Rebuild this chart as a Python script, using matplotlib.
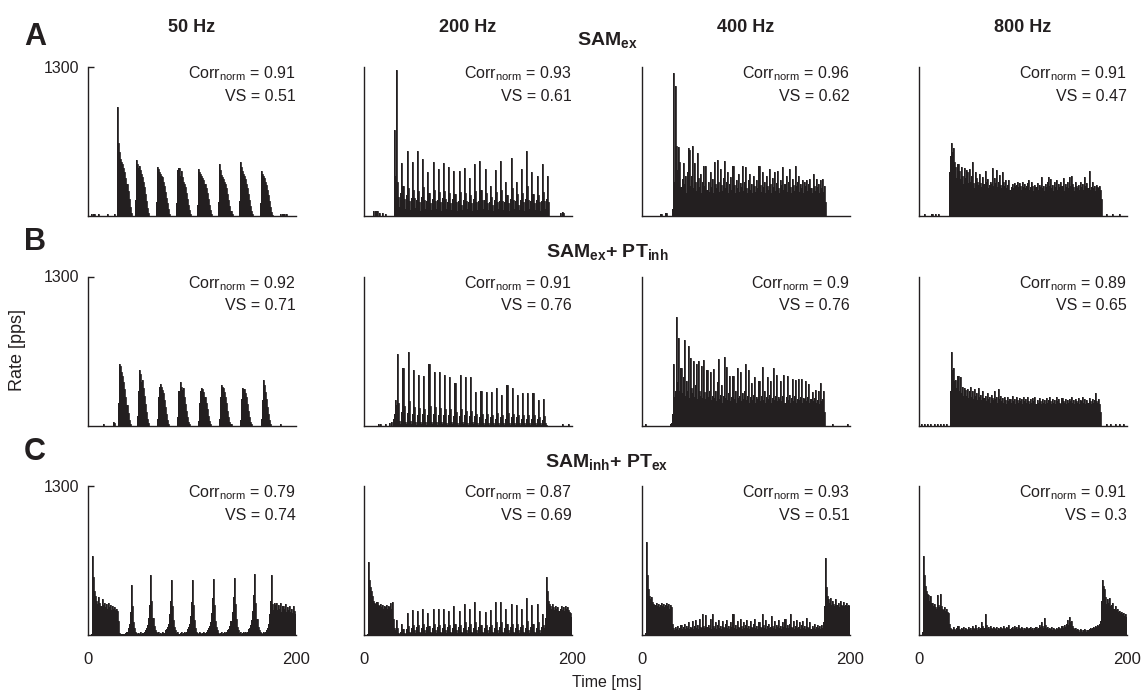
import matplotlib
matplotlib.use("Agg")
import matplotlib.pyplot as plt
import numpy as np

plt.rcParams['font.family'] = ['Liberation Sans', 'DejaVu Sans']
plt.rcParams['mathtext.fontset'] = 'custom'
plt.rcParams['mathtext.rm'] = 'Liberation Sans'
plt.rcParams['mathtext.bf'] = 'Liberation Sans:bold'
plt.rcParams['mathtext.it'] = 'Liberation Sans:italic'

# ---------------------------------------------------------------- data
frequencies = ["50 Hz", "200 Hz", "400 Hz", "800 Hz"]
conditions = [r"SAM$_{\mathbf{ex}}$",
              r"SAM$_{\mathbf{ex}}$+ PT$_{\mathbf{inh}}$",
              r"SAM$_{\mathbf{inh}}$+ PT$_{\mathbf{ex}}$"]
panel_letters = ["A", "B", "C"]
corr_norm = [[0.91, 0.93, 0.96, 0.91],
             [0.92, 0.91, 0.9, 0.89],
             [0.79, 0.87, 0.93, 0.91]]
vector_strength = [[0.51, 0.61, 0.62, 0.47],
                   [0.71, 0.76, 0.76, 0.65],
                   [0.74, 0.69, 0.51, 0.3]]
time_ticks = [0, 200]
rate_tick = 1300
bin_edges_ms = np.arange(0, 201, 1)

# PSTH rates (pps), 1-ms bins, 0-200 ms
rate_samex_50 = [
    0, 0, 0, 15, 0, 15, 20, 0, 0, 0,
    15, 0, 0, 0, 0, 0, 0, 0, 20, 0,
    0, 0, 0, 0, 0, 15, 0, 0, 950, 640,
    560, 500, 470, 450, 420, 380, 330, 280, 220, 150,
    80, 30, 0, 0, 0, 140, 490, 450, 420, 440,
    400, 370, 340, 300, 250, 190, 130, 70, 25, 0,
    0, 0, 0, 0, 0, 120, 430, 410, 380, 370,
    350, 340, 300, 260, 210, 160, 110, 60, 20, 0,
    0, 0, 0, 0, 0, 110, 400, 420, 350, 390,
    340, 300, 280, 250, 200, 150, 100, 50, 15, 0,
    0, 0, 0, 0, 0, 100, 410, 380, 370, 350,
    330, 310, 280, 240, 200, 150, 100, 50, 15, 0,
    0, 0, 0, 0, 0, 120, 450, 400, 360, 340,
    320, 300, 280, 240, 190, 140, 90, 45, 15, 0,
    0, 0, 0, 0, 0, 130, 470, 430, 390, 370,
    350, 320, 280, 240, 190, 140, 90, 45, 15, 0,
    0, 0, 0, 0, 0, 110, 390, 370, 350, 330,
    300, 270, 230, 180, 130, 80, 35, 10, 0, 0,
    0, 0, 0, 0, 0, 15, 0, 15, 15, 0,
    15, 0, 0, 0, 0, 0, 0, 0, 0, 0]

rate_samex_200 = [
    0, 0, 0, 0, 0, 0, 0, 0, 0, 40,
    0, 45, 40, 0, 30, 0, 0, 25, 0, 0,
    20, 0, 0, 0, 0, 0, 0, 0, 0, 750,
    350, 1270, 300, 170, 80, 200, 460, 260, 150, 60,
    180, 570, 240, 130, 50, 160, 470, 230, 160, 70,
    140, 570, 220, 120, 40, 170, 500, 250, 140, 60,
    130, 380, 200, 110, 50, 150, 470, 230, 130, 60,
    140, 410, 210, 120, 40, 160, 460, 220, 150, 60,
    120, 430, 200, 110, 50, 150, 390, 190, 120, 40,
    130, 390, 210, 100, 50, 140, 420, 200, 130, 60,
    120, 330, 180, 110, 40, 150, 450, 220, 120, 50,
    130, 480, 230, 140, 60, 140, 410, 200, 110, 50,
    120, 260, 170, 100, 40, 140, 400, 210, 120, 60,
    130, 480, 230, 130, 50, 120, 300, 180, 110, 40,
    150, 510, 240, 140, 60, 130, 300, 190, 100, 50,
    140, 410, 200, 120, 40, 150, 570, 260, 140, 60,
    130, 380, 190, 110, 50, 140, 350, 180, 120, 40,
    130, 450, 210, 130, 60, 150, 350, 120, 0, 0,
    0, 0, 0, 0, 0, 0, 0, 0, 30, 0,
    35, 30, 0, 0, 0, 0, 0, 0, 0, 0]

rate_samex_400 = [
    0, 0, 0, 0, 0, 0, 0, 0, 0, 0,
    0, 0, 0, 0, 0, 0, 0, 20, 20, 0,
    0, 0, 25, 25, 0, 0, 0, 0, 0, 60,
    1250, 300, 1130, 610, 400, 600, 470, 250, 320, 460,
    280, 350, 200, 380, 590, 580, 260, 350, 610, 240,
    460, 300, 220, 550, 330, 250, 370, 200, 300, 440,
    260, 440, 230, 300, 210, 380, 250, 320, 200, 470,
    280, 240, 490, 300, 210, 410, 270, 220, 330, 480,
    240, 300, 380, 200, 280, 340, 230, 440, 270, 200,
    310, 240, 370, 210, 290, 250, 440, 220, 300, 430,
    240, 200, 310, 370, 230, 280, 200, 350, 260, 210,
    310, 240, 440, 270, 210, 380, 250, 300, 200, 350,
    260, 230, 410, 280, 200, 330, 250, 380, 220, 290,
    390, 240, 200, 310, 270, 430, 230, 280, 350, 210,
    300, 410, 250, 200, 320, 270, 220, 440, 260, 300,
    350, 210, 280, 240, 310, 200, 300, 260, 310, 220,
    280, 320, 240, 200, 370, 260, 220, 320, 250, 280,
    200, 310, 240, 320, 210, 260, 120, 0, 0, 0,
    0, 0, 0, 0, 0, 0, 0, 0, 0, 0,
    0, 0, 0, 0, 0, 0, 0, 0, 0, 0]

rate_samex_800 = [
    0, 0, 0, 0, 0, 15, 0, 0, 0, 0,
    0, 0, 15, 0, 0, 15, 0, 0, 15, 0,
    0, 0, 0, 0, 0, 0, 0, 0, 0, 380,
    520, 640, 560, 590, 470, 430, 330, 450, 390, 320,
    430, 350, 280, 420, 330, 400, 380, 290, 410, 300,
    350, 470, 290, 240, 380, 330, 300, 270, 370, 290,
    250, 340, 280, 390, 300, 320, 240, 270, 300, 280,
    420, 260, 330, 290, 400, 250, 300, 360, 270, 240,
    380, 300, 260, 310, 240, 270, 310, 230, 250, 280,
    240, 290, 260, 270, 300, 250, 290, 260, 230, 300,
    250, 280, 240, 260, 290, 310, 230, 250, 300, 260,
    220, 270, 250, 290, 230, 270, 250, 340, 240, 260,
    220, 280, 250, 300, 340, 260, 320, 240, 270, 220,
    300, 250, 310, 230, 280, 250, 300, 260, 330, 220,
    280, 250, 300, 240, 340, 260, 350, 280, 250, 220,
    300, 260, 240, 270, 230, 300, 250, 280, 230, 340,
    260, 290, 240, 390, 230, 250, 300, 240, 260, 220,
    270, 250, 240, 260, 230, 150, 0, 0, 0, 0,
    15, 0, 0, 0, 0, 0, 15, 0, 0, 0,
    0, 0, 15, 0, 0, 0, 0, 0, 0, 0]

rate_samex_ptinh_50 = [
    0, 0, 0, 0, 0, 0, 0, 0, 0, 0,
    0, 0, 0, 0, 10, 0, 0, 0, 0, 0,
    0, 0, 0, 0, 30, 20, 0, 0, 0, 200,
    540, 520, 470, 430, 380, 320, 250, 180, 110, 50,
    15, 0, 0, 0, 0, 0, 0, 80, 300, 480,
    450, 380, 400, 330, 260, 190, 120, 60, 20, 0,
    0, 0, 0, 0, 0, 0, 60, 250, 340, 360,
    340, 310, 280, 220, 160, 100, 45, 10, 0, 0,
    0, 0, 0, 0, 0, 0, 70, 300, 380, 340,
    310, 330, 250, 190, 130, 75, 30, 10, 0, 0,
    0, 0, 0, 0, 0, 0, 40, 200, 300, 330,
    320, 290, 250, 200, 140, 85, 40, 10, 0, 0,
    0, 0, 0, 0, 0, 0, 60, 250, 350, 340,
    330, 290, 250, 200, 130, 75, 30, 10, 0, 0,
    0, 0, 0, 0, 0, 0, 50, 230, 330, 320,
    320, 280, 250, 190, 130, 75, 30, 10, 0, 0,
    0, 0, 0, 0, 0, 0, 60, 220, 400, 350,
    290, 230, 160, 100, 45, 10, 0, 0, 0, 0,
    0, 0, 0, 0, 0, 10, 0, 0, 0, 0,
    0, 0, 0, 0, 0, 0, 0, 0, 0, 0]

rate_samex_ptinh_200 = [
    0, 0, 0, 0, 0, 0, 0, 0, 0, 0,
    0, 0, 0, 15, 0, 15, 0, 0, 0, 0,
    10, 0, 0, 0, 20, 0, 30, 0, 60, 100,
    220, 180, 620, 200, 40, 10, 120, 500, 170, 30,
    10, 110, 640, 210, 40, 10, 100, 480, 160, 30,
    5, 90, 440, 150, 30, 10, 100, 430, 140, 30,
    5, 90, 540, 170, 30, 10, 100, 470, 160, 30,
    5, 90, 470, 150, 30, 10, 90, 440, 140, 20,
    5, 90, 420, 140, 30, 10, 80, 370, 120, 20,
    5, 80, 440, 140, 30, 10, 90, 420, 130, 20,
    5, 80, 420, 130, 30, 10, 80, 290, 100, 20,
    5, 70, 300, 100, 20, 5, 60, 290, 100, 20,
    5, 70, 290, 90, 20, 5, 60, 330, 110, 20,
    5, 70, 270, 90, 20, 5, 60, 350, 110, 20,
    5, 70, 330, 100, 20, 5, 70, 270, 90, 20,
    5, 60, 280, 90, 20, 5, 60, 280, 90, 20,
    5, 60, 280, 90, 20, 5, 60, 220, 70, 20,
    5, 50, 230, 80, 20, 5, 0, 0, 0, 0,
    0, 0, 0, 0, 0, 0, 0, 0, 0, 0,
    15, 0, 0, 0, 0, 0, 10, 0, 0, 0]

rate_samex_ptinh_400 = [
    0, 0, 0, 10, 0, 0, 0, 0, 0, 0,
    0, 0, 0, 0, 0, 0, 0, 0, 0, 0,
    0, 0, 0, 0, 0, 0, 0, 15, 20, 100,
    540, 250, 300, 950, 380, 760, 300, 500, 280, 420,
    750, 260, 390, 300, 690, 240, 590, 330, 280, 560,
    250, 350, 540, 230, 560, 300, 260, 520, 240, 570,
    290, 230, 480, 250, 300, 470, 220, 260, 490, 240,
    300, 210, 380, 580, 230, 270, 350, 200, 260, 600,
    240, 510, 220, 280, 430, 210, 250, 430, 230, 300,
    200, 500, 240, 260, 470, 210, 280, 230, 300, 540,
    220, 260, 480, 200, 250, 370, 220, 270, 420, 200,
    250, 230, 390, 210, 260, 510, 220, 300, 200, 250,
    420, 230, 270, 390, 200, 240, 500, 220, 260, 440,
    210, 250, 230, 390, 210, 260, 440, 200, 250, 430,
    220, 270, 200, 240, 410, 210, 260, 400, 200, 230,
    410, 220, 250, 410, 200, 240, 230, 390, 210, 250,
    360, 200, 230, 290, 210, 240, 310, 200, 220, 300,
    190, 370, 210, 230, 300, 120, 0, 0, 0, 0,
    0, 0, 0, 10, 0, 0, 0, 0, 0, 0,
    0, 0, 0, 0, 0, 0, 0, 10, 0, 0]

rate_samex_ptinh_800 = [
    0, 0, 10, 0, 0, 10, 0, 0, 10, 0,
    0, 10, 0, 0, 10, 0, 0, 10, 0, 0,
    10, 0, 0, 10, 0, 0, 10, 0, 0, 0,
    300, 640, 480, 500, 390, 400, 330, 430, 300, 420,
    280, 340, 260, 330, 310, 260, 320, 240, 300, 340,
    250, 300, 230, 320, 260, 280, 220, 330, 250, 270,
    220, 300, 240, 260, 210, 280, 230, 250, 200, 270,
    240, 220, 300, 230, 250, 200, 320, 230, 260, 210,
    240, 200, 250, 220, 190, 250, 210, 230, 200, 260,
    210, 230, 190, 250, 220, 200, 240, 210, 230, 190,
    250, 210, 230, 200, 250, 210, 190, 230, 200, 240,
    210, 250, 190, 220, 200, 240, 210, 190, 230, 200,
    220, 190, 240, 200, 220, 250, 210, 190, 230, 200,
    220, 190, 250, 210, 230, 200, 190, 240, 210, 200,
    230, 190, 220, 200, 230, 210, 250, 200, 220, 190,
    230, 210, 200, 240, 190, 220, 210, 250, 200, 230,
    190, 220, 200, 240, 210, 190, 230, 200, 220, 280,
    210, 200, 230, 190, 120, 0, 0, 0, 0, 0,
    10, 0, 0, 0, 10, 0, 0, 0, 10, 0,
    0, 0, 10, 0, 0, 0, 10, 0, 0, 0]

rate_saminh_ptex_50 = [
    0, 0, 0, 10, 690, 510, 380, 340, 300, 270,
    330, 280, 250, 310, 260, 280, 240, 270, 230, 280,
    240, 260, 220, 250, 230, 240, 220, 230, 210, 120,
    20, 10, 5, 10, 5, 10, 20, 30, 60, 100,
    200, 440, 250, 110, 60, 30, 20, 10, 20, 10,
    30, 10, 20, 20, 30, 40, 60, 90, 150, 260,
    520, 300, 150, 80, 40, 30, 20, 30, 10, 20,
    10, 30, 20, 20, 40, 50, 70, 100, 180, 300,
    480, 250, 130, 70, 40, 20, 30, 10, 20, 30,
    10, 20, 30, 20, 30, 50, 70, 100, 170, 290,
    480, 260, 130, 60, 30, 20, 10, 30, 20, 10,
    20, 30, 20, 30, 40, 60, 80, 110, 190, 320,
    490, 260, 120, 70, 40, 20, 10, 20, 30, 10,
    20, 30, 20, 30, 40, 50, 80, 120, 200, 330,
    500, 270, 140, 70, 40, 20, 30, 10, 20, 30,
    20, 30, 20, 30, 50, 60, 90, 130, 210, 350,
    530, 280, 140, 70, 40, 30, 20, 10, 30, 20,
    30, 40, 60, 100, 180, 300, 520, 270, 220, 280,
    260, 280, 220, 260, 230, 280, 200, 250, 230, 270,
    200, 240, 220, 250, 200, 230, 190, 250, 210, 180]

rate_saminh_ptex_200 = [
    0, 0, 0, 10, 640, 480, 420, 380, 340, 300,
    280, 270, 290, 260, 250, 270, 240, 260, 230, 250,
    240, 260, 230, 250, 240, 280, 230, 290, 140, 60,
    40, 130, 60, 20, 10, 30, 100, 50, 20, 10,
    50, 190, 80, 30, 20, 60, 220, 90, 40, 20,
    70, 210, 90, 30, 20, 60, 230, 100, 40, 20,
    70, 190, 80, 30, 20, 60, 230, 100, 40, 20,
    70, 225, 90, 30, 20, 60, 225, 100, 40, 20,
    70, 210, 90, 30, 20, 60, 250, 100, 40, 20,
    70, 210, 90, 30, 20, 60, 270, 110, 40, 20,
    70, 230, 100, 30, 20, 60, 290, 110, 40, 20,
    70, 210, 90, 30, 20, 60, 200, 90, 40, 20,
    70, 220, 90, 30, 20, 60, 290, 110, 40, 20,
    70, 290, 110, 30, 20, 60, 230, 100, 40, 20,
    70, 270, 100, 30, 20, 60, 260, 100, 40, 20,
    70, 230, 90, 30, 20, 60, 320, 120, 40, 20,
    70, 260, 100, 30, 20, 60, 270, 110, 40, 20,
    70, 180, 90, 60, 150, 510, 380, 300, 270, 250,
    230, 270, 240, 220, 250, 230, 240, 210, 230, 250,
    220, 240, 210, 250, 230, 240, 220, 200, 190, 160]

rate_saminh_ptex_400 = [
    0, 0, 0, 20, 810, 520, 400, 340, 310, 330,
    290, 270, 260, 280, 250, 270, 240, 260, 280, 250,
    270, 240, 260, 280, 250, 270, 230, 260, 240, 100,
    60, 40, 70, 50, 80, 40, 60, 90, 50, 70,
    100, 50, 80, 60, 110, 50, 70, 60, 120, 50,
    80, 130, 60, 90, 50, 140, 70, 60, 180, 80,
    60, 175, 70, 90, 60, 140, 50, 180, 80, 60,
    110, 50, 90, 130, 60, 80, 50, 120, 70, 60,
    100, 130, 60, 80, 50, 110, 70, 180, 60, 90,
    50, 120, 70, 60, 140, 80, 50, 110, 60, 90,
    130, 60, 80, 50, 120, 70, 60, 100, 140, 60,
    80, 50, 110, 70, 60, 180, 90, 60, 130, 50,
    80, 100, 60, 70, 170, 80, 60, 120, 50, 90,
    70, 130, 60, 80, 50, 110, 70, 140, 60, 90,
    60, 100, 180, 70, 60, 120, 50, 80, 130, 60,
    70, 110, 50, 90, 120, 60, 80, 50, 150, 70,
    60, 110, 50, 80, 60, 100, 50, 70, 90, 60,
    80, 50, 90, 60, 110, 250, 670, 420, 340, 310,
    280, 320, 260, 300, 270, 250, 310, 260, 280, 240,
    300, 260, 250, 290, 250, 260, 280, 250, 260, 250]

rate_saminh_ptex_800 = [
    0, 0, 0, 30, 690, 520, 430, 380, 360, 350,
    300, 340, 280, 250, 270, 240, 230, 350, 260, 240,
    360, 250, 230, 220, 240, 210, 230, 200, 190, 100,
    60, 50, 40, 70, 50, 40, 60, 80, 50, 40,
    60, 50, 70, 40, 60, 50, 40, 70, 50, 60,
    40, 80, 60, 50, 90, 60, 40, 70, 50, 60,
    110, 80, 60, 180, 90, 60, 70, 50, 80, 60,
    50, 70, 60, 50, 70, 40, 60, 50, 70, 60,
    50, 80, 60, 50, 70, 60, 90, 50, 60, 70,
    50, 80, 60, 70, 50, 90, 60, 50, 70, 60,
    40, 60, 50, 70, 60, 50, 60, 70, 50, 60,
    40, 60, 70, 50, 60, 90, 70, 110, 80, 60,
    150, 90, 60, 70, 50, 60, 50, 70, 40, 60,
    50, 40, 60, 50, 70, 60, 50, 80, 60, 90,
    70, 100, 130, 90, 160, 110, 120, 80, 60, 50,
    60, 40, 50, 40, 30, 50, 40, 30, 40, 50,
    40, 30, 40, 50, 60, 50, 60, 70, 60, 80,
    70, 90, 80, 100, 120, 300, 480, 430, 400, 330,
    270, 310, 280, 320, 250, 260, 280, 230, 250, 220,
    230, 200, 210, 190, 200, 180, 190, 170, 180, 160]

rates = [
    [rate_samex_50, rate_samex_200, rate_samex_400, rate_samex_800],
    [rate_samex_ptinh_50, rate_samex_ptinh_200, rate_samex_ptinh_400, rate_samex_ptinh_800],
    [rate_saminh_ptex_50, rate_saminh_ptex_200, rate_saminh_ptex_400, rate_saminh_ptex_800],
]

# ---------------------------------------------------------------- layout
W, H = 1143, 693
col_left = [88, 364, 642, 919]
ax_w = 208
row_top = [67, 276.5, 486]
ax_h = 149
ink = "#231f20"
txt = 11.5

fig = plt.figure(figsize=(W / 100, H / 100), dpi=100)

for r in range(3):
    for c in range(4):
        vals = np.asarray(rates[r][c], dtype=float)
        assert len(vals) == len(bin_edges_ms) - 1
        left = col_left[c] / W
        bottom = 1 - (row_top[r] + ax_h) / H
        ax = fig.add_axes([left, bottom, ax_w / W, ax_h / H])
        ax.stairs(vals, bin_edges_ms, fill=True, color=ink, linewidth=0)
        ax.stairs(vals, bin_edges_ms, fill=False, color=ink, linewidth=0.6,
                  baseline=0)
        ax.set_xlim(0, 200)
        ax.set_ylim(0, rate_tick)
        for s in ("top", "right"):
            ax.spines[s].set_visible(False)
        for s in ("left", "bottom"):
            ax.spines[s].set_linewidth(1.0)
            ax.spines[s].set_color(ink)
        if r == 2:
            ax.set_xticks(time_ticks)
            ax.tick_params(axis="x", length=0, pad=12, labelsize=12, colors=ink)
        else:
            ax.set_xticks([])
        if c == 0:
            ax.set_yticks([rate_tick])
            ax.tick_params(axis="y", direction="in", length=4, width=1.0,
                           pad=6, labelsize=txt, colors=ink)
        else:
            ax.set_yticks([])
        ax.text(1.0, 0.924, rf"Corr$_{{\mathrm{{norm}}}}$ = {corr_norm[r][c]:g}",
                transform=ax.transAxes, ha="right", va="baseline",
                fontsize=txt, color=ink)
        ax.text(1.0, 0.774, f"VS = {vector_strength[r][c]:g}",
                transform=ax.transAxes, ha="right", va="baseline",
                fontsize=txt, color=ink)

# column headings
for c, label in enumerate(frequencies):
    fig.text((col_left[c] + ax_w / 2) / W, 1 - 28 / H, label, ha="center",
             va="center", fontsize=13, fontweight="bold", color=ink)

# row headings and panel letters
title_base = [45, 257, 467]
letter_y = [37, 242, 452]
for r in range(3):
    fig.text(607 / W, 1 - title_base[r] / H, conditions[r], ha="center",
             va="baseline", fontsize=14, fontweight="bold", color=ink)
    fig.text(35 / W, 1 - letter_y[r] / H, panel_letters[r], ha="center",
             va="center", fontsize=22, fontweight="bold", color=ink)

fig.text(18 / W, 1 - 350 / H, "Rate [pps]", rotation=90, ha="center",
         va="center", fontsize=13, color=ink)
fig.text(607 / W, 1 - 683 / H, "Time [ms]", ha="center", va="center",
         fontsize=txt, color=ink)

fig.savefig("out.png", dpi=100)
